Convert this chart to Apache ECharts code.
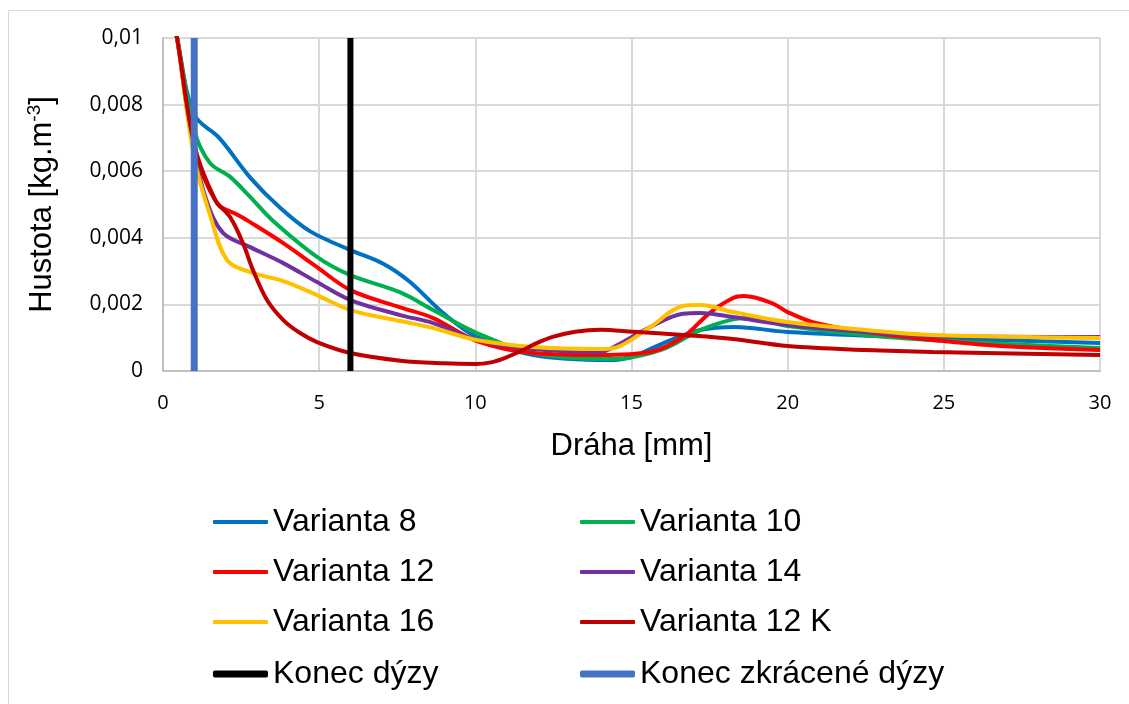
<!DOCTYPE html>
<html>
<head>
<meta charset="utf-8">
<script src="https://cdn.jsdelivr.net/npm/echarts@6/dist/echarts.min.js"></script>
<style>
html,body{margin:0;padding:0;background:#fff;}
#c{width:1129px;height:704px;}
</style>
</head>
<body>
<div id="c"></div>
<script>
// x positions (mm) and densities per series
const v8 = [[0.2,0.0112],[0.45,0.0100],[1.0,0.0077],[1.8,0.0070],[2.8,0.0058],[3.75,0.0049],[4.7,0.0042],[6.0,0.00363],[7.05,0.00322],[7.9,0.00268],[8.97,0.00174],[10.05,0.00102],[11.85,0.00048],[14.3,0.00033],[15.0,0.00042],[16.1,0.00087],[17.2,0.00123],[18.3,0.00132],[20,0.00117],[23.6,0.00102],[30,0.00084]];
const v10 = [[0.2,0.0112],[0.45,0.0100],[1.0,0.00724],[1.5,0.00625],[2.15,0.00583],[2.79,0.00523],[3.5,0.00453],[4.93,0.00343],[6.0,0.00288],[7.6,0.00236],[8.65,0.00183],[10.05,0.00114],[11.85,0.00054],[14.3,0.00036],[15.05,0.00042],[16.1,0.00069],[17.2,0.00123],[18.25,0.00155],[18.8,0.00160],[20,0.00135],[23.6,0.00099],[30,0.00069]];
const v12 = [[0.2,0.0112],[0.45,0.0100],[1.0,0.0067],[1.73,0.00504],[2.37,0.00470],[2.79,0.00447],[3.85,0.00384],[4.93,0.00312],[6.0,0.00243],[7.6,0.00191],[8.65,0.00159],[10.05,0.00090],[11.85,0.00054],[14.0,0.00048],[15.6,0.00057],[16.65,0.00102],[17.5,0.00174],[18.25,0.00219],[18.6,0.00225],[19.5,0.00204],[20,0.00177],[20.9,0.00144],[22.5,0.00117],[24.65,0.00093],[26.8,0.00075],[30,0.00063]];
const v14 = [[0.2,0.0112],[0.45,0.0100],[1.0,0.0066],[1.4,0.0051],[1.93,0.00414],[2.79,0.00372],[3.85,0.00324],[4.93,0.00267],[6.0,0.00213],[7.6,0.00168],[8.65,0.00144],[10.05,0.00093],[11.85,0.00066],[14.0,0.00057],[14.55,0.00078],[15.6,0.00132],[16.65,0.00172],[17.2,0.00174],[18.25,0.00162],[20,0.00138],[22.5,0.00117],[24.65,0.00105],[30,0.00102]];
const v16 = [[0.2,0.0112],[0.45,0.0100],[1.0,0.0064],[1.5,0.0047],[2.05,0.00333],[2.79,0.00297],[3.85,0.00270],[4.93,0.00228],[6.0,0.00183],[7.6,0.00150],[8.65,0.00129],[10.05,0.00093],[11.85,0.00072],[14.0,0.00066],[14.55,0.00072],[15.6,0.00132],[16.65,0.00195],[17.2,0.00198],[18.25,0.00177],[20,0.00147],[22.5,0.00123],[24.65,0.00108],[30,0.00099]];
const v12k = [[0.2,0.0112],[0.45,0.0100],[1.0,0.0068],[1.67,0.00514],[2.15,0.00462],[2.56,0.00384],[2.88,0.00303],[3.33,0.00213],[3.85,0.00153],[4.39,0.00114],[4.93,0.00087],[6.0,0.00054],[7.6,0.00031],[9.0,0.00023],[10.0,0.00021],[10.5,0.00026],[11.0,0.00041],[11.5,0.00062],[12.0,0.00085],[12.5,0.00103],[13.2,0.00118],[14.0,0.00124],[15.05,0.00118],[16.65,0.00108],[18.25,0.00096],[20,0.00075],[22.5,0.00063],[24.65,0.00057],[30,0.00048]];
const nozzleEnd = [[6,0],[6,0.01]];
const shortNozzleEnd = [[1,0],[1,0.01]];

const seriesNames = ['Varianta 8','Varianta 10','Varianta 12','Varianta 14','Varianta 16','Varianta 12 K','Konec dýzy','Konec zkrácené dýzy'];
const xTicks = [0,5,10,15,20,25,30];
const yTickLabels = {'0':'0','0.002':'0,002','0.004':'0,004','0.006':'0,006','0.008':'0,008','0.01':'0,01'};

const colors = ['#0070C0','#00B050','#FF0000','#7030A0','#FFC000','#C00000','#000000','#4472C4'];
const datasets = [v8,v10,v12,v14,v16,v12k,nozzleEnd,shortNozzleEnd];
const widths = [4,4,4,4,4,4,6,7];

const chart = echarts.init(document.getElementById('c'));
const FONT = 'Liberation Sans, Arial, sans-serif';
const TICKFONT = 'Open Sans, sans-serif';
const legendText = {fontSize: 32, lineHeight: 30, color: '#000', fontFamily: FONT};
function leg(left, top, h, names) {
  return {orient:'vertical', left:left, top:top, padding:0, itemWidth:55, itemHeight:h, itemGap:18,
    icon:'roundRect', textStyle:legendText, data:names};
}
chart.setOption({
  animation: false,
  backgroundColor: '#fff',
  graphic: [{type:'rect', shape:{x:8.5,y:10.5,width:1200,height:800}, style:{fill:'none',stroke:'#d9d9d9',lineWidth:1}, silent:true, z:-10}],
  grid: {left:163, right:29, top:38, bottom:333},
  xAxis: {
    type:'value', min:0, max:30, interval:5,
    name:'Dráha [mm]', nameLocation:'middle', nameGap:60,
    nameTextStyle:{fontSize:31, color:'#000', fontFamily:FONT},
    axisLine:{lineStyle:{color:'#bfbfbf', width:2}},
    axisTick:{show:false},
    axisLabel:{fontSize:20, color:'#000', margin:22, fontFamily:TICKFONT, formatter: v => xTicks.includes(v) ? String(v) : ''},
    splitLine:{show:true, lineStyle:{color:'#d9d9d9', width:2}}
  },
  yAxis: {
    type:'value', min:0, max:0.01, interval:0.002,
    name:'{a|Hustota [kg.m}{s|-3}{a|]}', nameLocation:'middle', nameGap:104,
    nameTextStyle:{fontSize:31, color:'#000', fontFamily:FONT,
      rich:{a:{fontSize:31, fontFamily:FONT, color:'#000'}, s:{fontSize:19, fontFamily:FONT, color:'#000', padding:[0,0,15,0]}}},
    axisLine:{show:true, lineStyle:{color:'#bfbfbf', width:2}},
    axisTick:{show:false},
    axisLabel:{fontSize:21, color:'#000', margin:20, fontFamily:TICKFONT, formatter: v => yTickLabels[String(+v.toFixed(4))] ?? ''},
    splitLine:{show:true, lineStyle:{color:'#d9d9d9', width:2}}
  },
  legend: [
    leg(213, 506, 4, [seriesNames[0],seriesNames[2],seriesNames[4]]),
    leg(580, 506, 4, [seriesNames[1],seriesNames[3],seriesNames[5]]),
    leg(213, 658, 7, [seriesNames[6]]),
    leg(580, 658, 7, [seriesNames[7]])
  ],
  series: datasets.map((d,i) => ({
    name: seriesNames[i], type:'line', data:d, smooth: i<6 ? 0.35 : false, symbol:'none', clip:true,
    lineStyle:{color:colors[i], width:widths[i]}, itemStyle:{color:colors[i]},
    z: i>=6 ? 5 : 3
  }))
});
</script>
</body>
</html>
